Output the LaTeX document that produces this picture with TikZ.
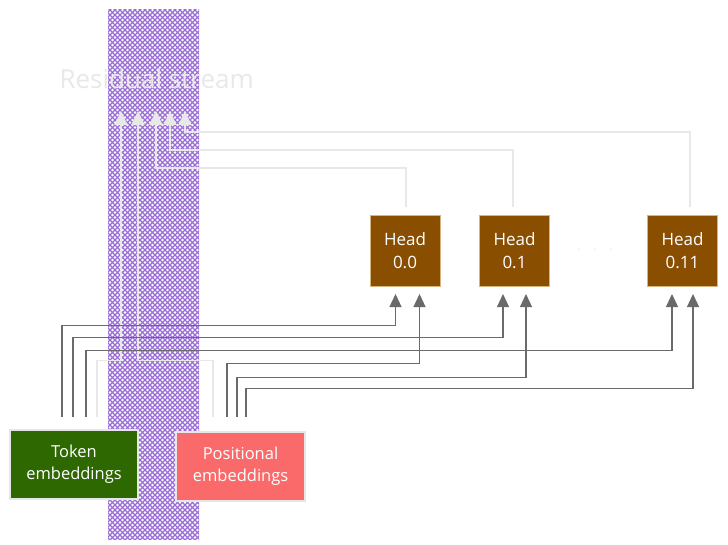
\documentclass[tikz,border=0pt]{standalone}
\usepackage{fontspec}
\setmainfont{Open Sans}
\usetikzlibrary{arrows.meta,calc}

\definecolor{headbrown}{RGB}{138,78,0}
\definecolor{headedge}{RGB}{214,180,130}
\definecolor{tokgreen}{RGB}{46,104,0}
\definecolor{possalmon}{RGB}{250,106,106}
\definecolor{boxedge}{RGB}{230,230,230}
\definecolor{feedgrey}{RGB}{106,106,106}
\definecolor{residgrey}{RGB}{232,232,232}
\definecolor{hatchviolet}{RGB}{152,108,212}

\tikzset{
  headbox/.style={draw=headedge, fill=headbrown, line width=1pt,
    minimum width=70pt, minimum height=71pt, text=white, align=center,
    font=\fontsize{17}{23}\selectfont},
  embbox/.style={draw=boxedge, line width=1.2pt,
    minimum width=128pt, minimum height=69pt, text=white, align=center,
    font=\fontsize{16.5}{22}\selectfont},
  feed/.style={draw=feedgrey, line width=1.2pt,
    -{Triangle[width=12pt,length=13pt]}},
  resid/.style={draw=residgrey, line width=1.8pt,
    -{Triangle[width=13pt,length=14pt]}},
  hatch/.style={draw=hatchviolet, line width=1.3pt}
}

\begin{document}
\begin{tikzpicture}[x=1pt,y=-1pt]

  \useasboundingbox (0,0) rectangle (728,544);

  % Residual stream band (cross hatched)
  \begin{scope}
    \clip (108,9) rectangle (199,539);
    \foreach \t in {-120,-115,...,660} {
      \draw[hatch] (100,\t) -- ++(110,-110);
      \draw[hatch] (100,\t) -- ++(110,110);
    }
  \end{scope}

  % Label of the band
  \node[anchor=west, text=residgrey, font=\fontsize{26}{30}\selectfont]
    (rslabel) at (56,79) {Residual stream};

  % Attention heads
  \node[headbox] (h0) at (405,251) {Head\\0.0};
  \node[headbox] (h1) at (514.5,251) {Head\\0.1};
  \node[headbox] (h11) at (682.5,251) {Head\\0.11};
  \node[text=boxedge, font=\fontsize{15}{18}\selectfont] (dots) at (595,250)
    {$\cdot$\hspace{12pt}$\cdot$\hspace{12pt}$\cdot$};

  % Embeddings
  \node[embbox, fill=tokgreen] (tok) at (74,464.5) {Token\\embeddings};
  \node[embbox, fill=possalmon, minimum width=129pt] (pos) at (240.5,466.5)
    {Positional\\embeddings};

  % Where the writes land in the residual stream
  \coordinate (r1) at (121,111);
  \coordinate (r2) at (138,111);
  \coordinate (r3) at (156,111);
  \coordinate (r4) at (170,111);
  \coordinate (r5) at (185,111);

  % Writes into the residual stream
  \draw[resid] ($(tok.north)+(23,-12)$) -- ++(0,-57) -| (r1);
  \draw[resid] ($(pos.north)+(-27.5,-14)$) -- ++(0,-57) -| (r2);
  \draw[resid] ($(h0.north)+(1,-8)$) -- ++(0,-39) -| (r3);
  \draw[resid] ($(h1.north)+(-1.5,-8)$) -- ++(0,-57) -| (r4);
  \draw[resid] ($(h11.north)+(7.5,-8)$) -- ++(0,-75) -| (r5);

  % Token embeddings into each head
  \foreach \dx/\dy/\h/\hx in {-12/-92/h0/-9.5, -1/-80/h1/-11.5, 12/-67/h11/-10.5}
    \draw[feed] ($(tok.north)+(\dx,-12)$) -- ++(0,\dy) -| ($(\h.south)+(\hx,7)$);

  % Positional embeddings into each head
  \foreach \dx/\dy/\h/\hx in {-13.5/-54/h0/14.5, -3.5/-40/h1/11.5, 5.5/-29/h11/10.5}
    \draw[feed] ($(pos.north)+(\dx,-14)$) -- ++(0,\dy) -| ($(\h.south)+(\hx,7)$);

\end{tikzpicture}
\end{document}
